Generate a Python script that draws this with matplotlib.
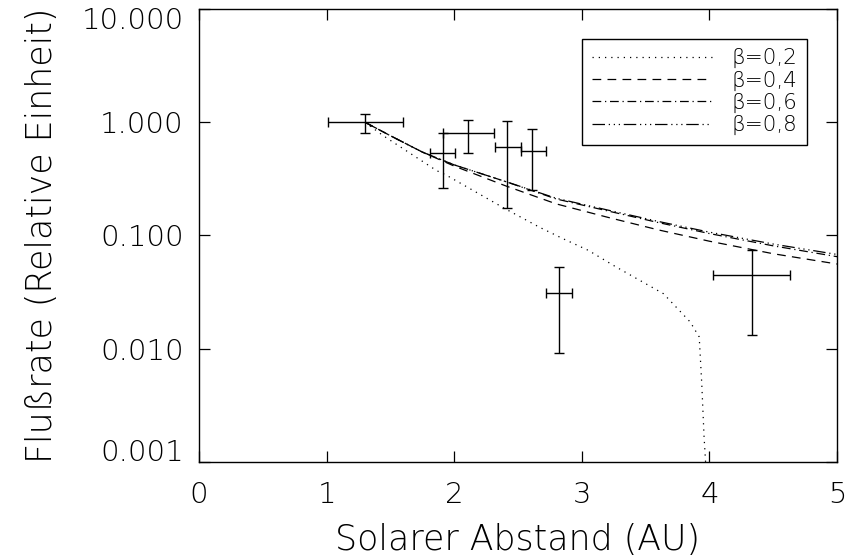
import matplotlib
matplotlib.use("Agg")
import matplotlib.pyplot as plt
import matplotlib.transforms as mtransforms
import numpy as np

plt.rcParams['font.family'] = ['DejaVu Sans']
plt.rcParams['font.weight'] = 200
plt.rcParams['axes.labelweight'] = 200

# Measured flux rates with error bars
obs_x = [1.3, 1.91, 2.11, 2.41, 2.61, 2.82, 4.33]
obs_y = [1.0, 0.53, 0.80, 0.60, 0.56, 0.031, 0.045]
obs_x_lo = [1.01, 1.81, 1.91, 2.32, 2.52, 2.72, 4.03]
obs_x_hi = [1.60, 2.01, 2.31, 2.52, 2.72, 2.92, 4.63]
obs_y_lo = [0.81, 0.265, 0.54, 0.174, 0.25, 0.0091, 0.0131]
obs_y_hi = [1.19, 0.80, 1.05, 1.02, 0.88, 0.053, 0.075]

# Model curves for different beta values
beta02_x = [1.3, 1.444, 1.862, 1.94, 2.40, 2.67, 2.85, 3.05, 3.27, 3.64, 3.85, 3.92, 3.94, 3.958, 3.975]
beta02_y = [1.0, 0.76, 0.374, 0.34, 0.172, 0.118, 0.094, 0.074, 0.0526, 0.0306, 0.0172, 0.0127, 0.0049, 0.00167, 0.0008]

beta04_x = [1.3, 1.5, 1.75, 2.0, 2.4, 2.8, 3.2, 3.6, 4.0, 4.5, 5.0]
beta04_y = [1.0, 0.76, 0.545, 0.41, 0.275, 0.19, 0.145, 0.112, 0.089, 0.069, 0.056]

beta06_x = [1.3, 1.5, 1.75, 2.0, 2.4, 2.8, 3.2, 3.6, 4.0, 4.5, 5.0]
beta06_y = [1.0, 0.76, 0.545, 0.42, 0.30, 0.21, 0.165, 0.13, 0.104, 0.081, 0.065]

beta08_x = [1.3, 1.5, 1.75, 2.0, 2.4, 2.8, 3.2, 3.6, 4.0, 4.5, 5.0]
beta08_y = [1.0, 0.76, 0.545, 0.42, 0.30, 0.213, 0.168, 0.133, 0.107, 0.084, 0.068]

beta_labels = ['β=0,2', 'β=0,4', 'β=0,6', 'β=0,8']

x_ticks = [0, 1, 2, 3, 4, 5]
y_ticks = [0.001, 0.01, 0.1, 1.0, 10.0]
y_tick_labels = ['0.001', '0.010', '0.100', '1.000', '10.000']

fig = plt.figure(figsize=(8.49, 5.60), dpi=100)
ax = fig.add_axes([0.2344, 0.175, 0.7515, 0.809])

lw = 0.9
ax.plot(beta02_x, beta02_y, color='black', lw=lw, linestyle=(0, (1, 4)), label=beta_labels[0])
ax.plot(beta04_x, beta04_y, color='black', lw=lw, linestyle=(0, (7, 5)), label=beta_labels[1])
ax.plot(beta06_x, beta06_y, color='black', lw=lw, linestyle=(0, (7, 3, 1, 3)), label=beta_labels[2])
ax.plot(beta08_x, beta08_y, color='black', lw=lw, linestyle=(0, (10, 3, 1, 3, 1, 3, 1, 3)), label=beta_labels[3])

ox = np.array(obs_x)
oy = np.array(obs_y)
xerr = [ox - np.array(obs_x_lo), np.array(obs_x_hi) - ox]
yerr = [oy - np.array(obs_y_lo), np.array(obs_y_hi) - oy]
ax.errorbar(ox, oy, xerr=xerr, yerr=yerr, fmt='none', ecolor='black',
            elinewidth=1.0, capsize=3.3, capthick=1.0)

ax.set_yscale('log')
ax.set_xlim(0, 5)
ax.set_ylim(0.001, 10)
ax.set_xticks(x_ticks)
ax.set_xticklabels([str(t) for t in x_ticks])
ax.set_yticks(y_ticks)
ax.set_yticklabels(y_tick_labels)
ax.yaxis.set_minor_locator(matplotlib.ticker.NullLocator())

ax.tick_params(axis='both', which='major', direction='in', length=8, width=0.9,
               top=True, right=True, labelsize=21, colors='black')
ax.tick_params(axis='x', pad=14)
ax.tick_params(axis='y', pad=11)
for sp in ax.spines.values():
    sp.set_linewidth(1.0)

# nudge the outermost y labels inward
ylabels = ax.get_yticklabels()
ylabels[0].set_transform(ylabels[0].get_transform() + mtransforms.ScaledTranslation(0, 12 / 100, fig.dpi_scale_trans))
ylabels[-1].set_transform(ylabels[-1].get_transform() + mtransforms.ScaledTranslation(0, -9 / 100, fig.dpi_scale_trans))

ax.set_xlabel('Solarer Abstand (AU)', fontsize=25, labelpad=10)
ax.set_ylabel('Flußrate (Relative Einheit)', fontsize=25, labelpad=16)

leg = ax.legend(loc='upper right', bbox_to_anchor=(0.951, 0.931), bbox_transform=fig.transFigure,
                fontsize=15.5, handlelength=5.6, handletextpad=0.9, labelspacing=0.1,
                fancybox=False, framealpha=1, edgecolor='black', borderpad=0.45,
                borderaxespad=0)
leg.get_frame().set_linewidth(1.0)

fig.savefig('out.png', dpi=100)
